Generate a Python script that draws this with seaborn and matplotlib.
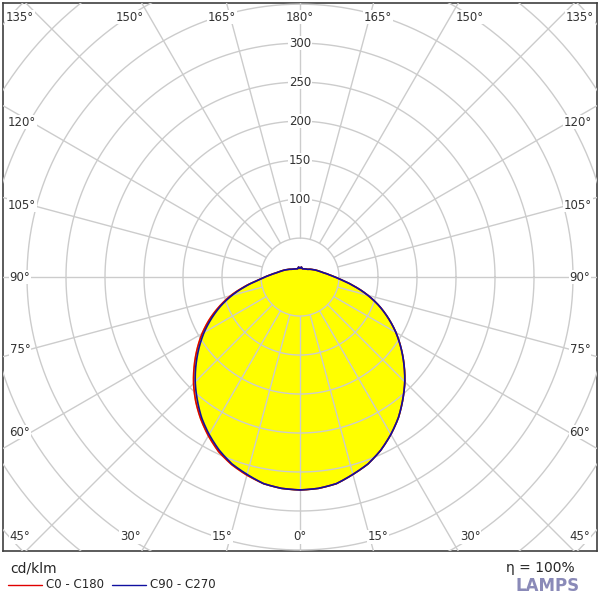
import numpy as np
import matplotlib.pyplot as plt
import seaborn as sns

sns.set_style("white")
plt.rcParams['font.family'] = ['DejaVu Sans']

# luminous intensity (cd/klm) vs gamma angle (deg), 0 = nadir
gamma = [0, 5, 10, 15, 20, 25, 30, 35, 40, 45, 50, 55, 60, 65, 70, 75, 80, 85, 88, 90,
         95, 100, 105, 110, 120, 135, 150, 165, 172, 176, 180]
c0 = [273, 272, 269, 262, 255, 245, 233, 220, 205, 190, 174, 158, 142, 125, 108, 90, 72, 56, 49, 45,
      37, 31, 27, 24, 19, 14, 12, 11, 13, 11, 12]
c180 = [273, 272, 269, 263, 256, 247, 235, 222, 208, 193, 177, 161, 145, 128, 110, 92, 73, 56, 49, 45,
        37, 31, 27, 24, 19, 14, 12, 11, 13, 11, 12]
c90 = [273, 272, 269, 262, 255, 245, 233, 220, 205, 190, 174, 158, 142, 125, 108, 90, 72, 56, 49, 45,
       37, 31, 27, 24, 19, 14, 12, 11, 13, 12, 12]
c270 = [273, 272, 269, 262, 255, 245, 233, 220, 205, 190, 174, 158, 142, 125, 108, 90, 72, 56, 49, 45,
        37, 31, 27, 24, 19, 14, 12, 11, 13, 12, 12]

radii = [50, 100, 150, 200, 250, 300, 350, 400, 450, 500]
radius_labels = [100, 150, 200, 250, 300]
angle_labels = ['135°', '150°', '165°', '180°', '120°', '105°', '90°', '75°', '60°', '45°', '30°', '15°', '0°']
SCALE = 0.78  # px per cd


def to_xy(px, py):
    return (px - 300) / SCALE, (277 - py) / SCALE


def half_curve(vals, side):
    g = np.linspace(0, 180, 721)
    v = np.interp(g, gamma, vals)
    g = np.radians(g)
    return side * v * np.sin(g), -v * np.cos(g)


def full_curve(right, left):
    xr, yr = half_curve(right, 1)
    xl, yl = half_curve(left, -1)
    return np.concatenate([xl[::-1], xr]), np.concatenate([yl[::-1], yr])


def draw_grid(z):
    t = np.linspace(0, 2 * np.pi, 400)
    for r in radii:
        ax.plot(r * np.cos(t), r * np.sin(t), color='#cccccc', lw=1, zorder=z)
    for a in range(0, 360, 15):
        ar = np.radians(a)
        ax.plot([50 * np.cos(ar), 700 * np.cos(ar)], [50 * np.sin(ar), 700 * np.sin(ar)],
                color='#cccccc', lw=1, zorder=z)


fig = plt.figure(figsize=(6, 6), dpi=100)
ax = fig.add_axes([0.005, 0.0817, 0.99, 0.913])
ax.set_xlim(-297 / SCALE, 297 / SCALE)
ax.set_ylim(-274 / SCALE, 274 / SCALE)
ax.set_xticks([])
ax.set_yticks([])
for s in ax.spines.values():
    s.set_color('#404040')
    s.set_linewidth(1.2)

xr, yr = full_curve(c0, c180)
xb, yb = full_curve(c90, c270)
ax.fill(xr, yr, color='#ffff00', zorder=2)
ax.fill(xb, yb, color='#ffff00', zorder=2)
draw_grid(3)
ax.plot(xr, yr, color='#e00000', lw=1.2, zorder=4)
ax.plot(xb, yb, color='#1010a0', lw=1.2, zorder=5)

for v in radius_labels:
    ax.text(0, v, str(v), ha='center', va='center', fontsize=8.5, color='#333333',
            bbox=dict(facecolor='white', edgecolor='none', pad=0.5), zorder=6)

label_pos = [(20, 17), (130, 17), (222, 17), (300, 17), (22, 122), (22, 205), (20, 277),
             (20, 349), (20, 432), (20, 537), (130, 537), (222, 537), (300, 537)]
for txt, (px, py) in zip(angle_labels, label_pos):
    for mx in ([px] if px == 300 else [px, 600 - px]):
        x, y = to_xy(mx, py)
        ax.text(x, y, txt, ha='center', va='center', fontsize=8.5, color='#333333',
                bbox=dict(facecolor='white', edgecolor='none', pad=0.5), zorder=6)

fig.text(10 / 600, 1 - 569 / 600, 'cd/klm', fontsize=10, va='center', ha='left')
fig.lines.append(plt.Line2D([8 / 600, 42 / 600], [1 - 585 / 600] * 2, color='#e00000', lw=1,
                            transform=fig.transFigure))
fig.text(46 / 600, 1 - 585 / 600, 'C0 - C180', fontsize=8.5, va='center', ha='left')
fig.lines.append(plt.Line2D([112 / 600, 146 / 600], [1 - 585 / 600] * 2, color='#1010a0', lw=1,
                            transform=fig.transFigure))
fig.text(150 / 600, 1 - 585 / 600, 'C90 - C270', fontsize=8.5, va='center', ha='left')
fig.text(548 / 600, 1 - 586 / 600, 'LAMPS', fontsize=12, fontweight='bold', color='#8a8ab8',
         va='center', ha='center')
fig.text(540 / 600, 1 - 568 / 600, 'η = 100%', fontsize=10, va='center', ha='center')

fig.savefig('out.png', dpi=100)
